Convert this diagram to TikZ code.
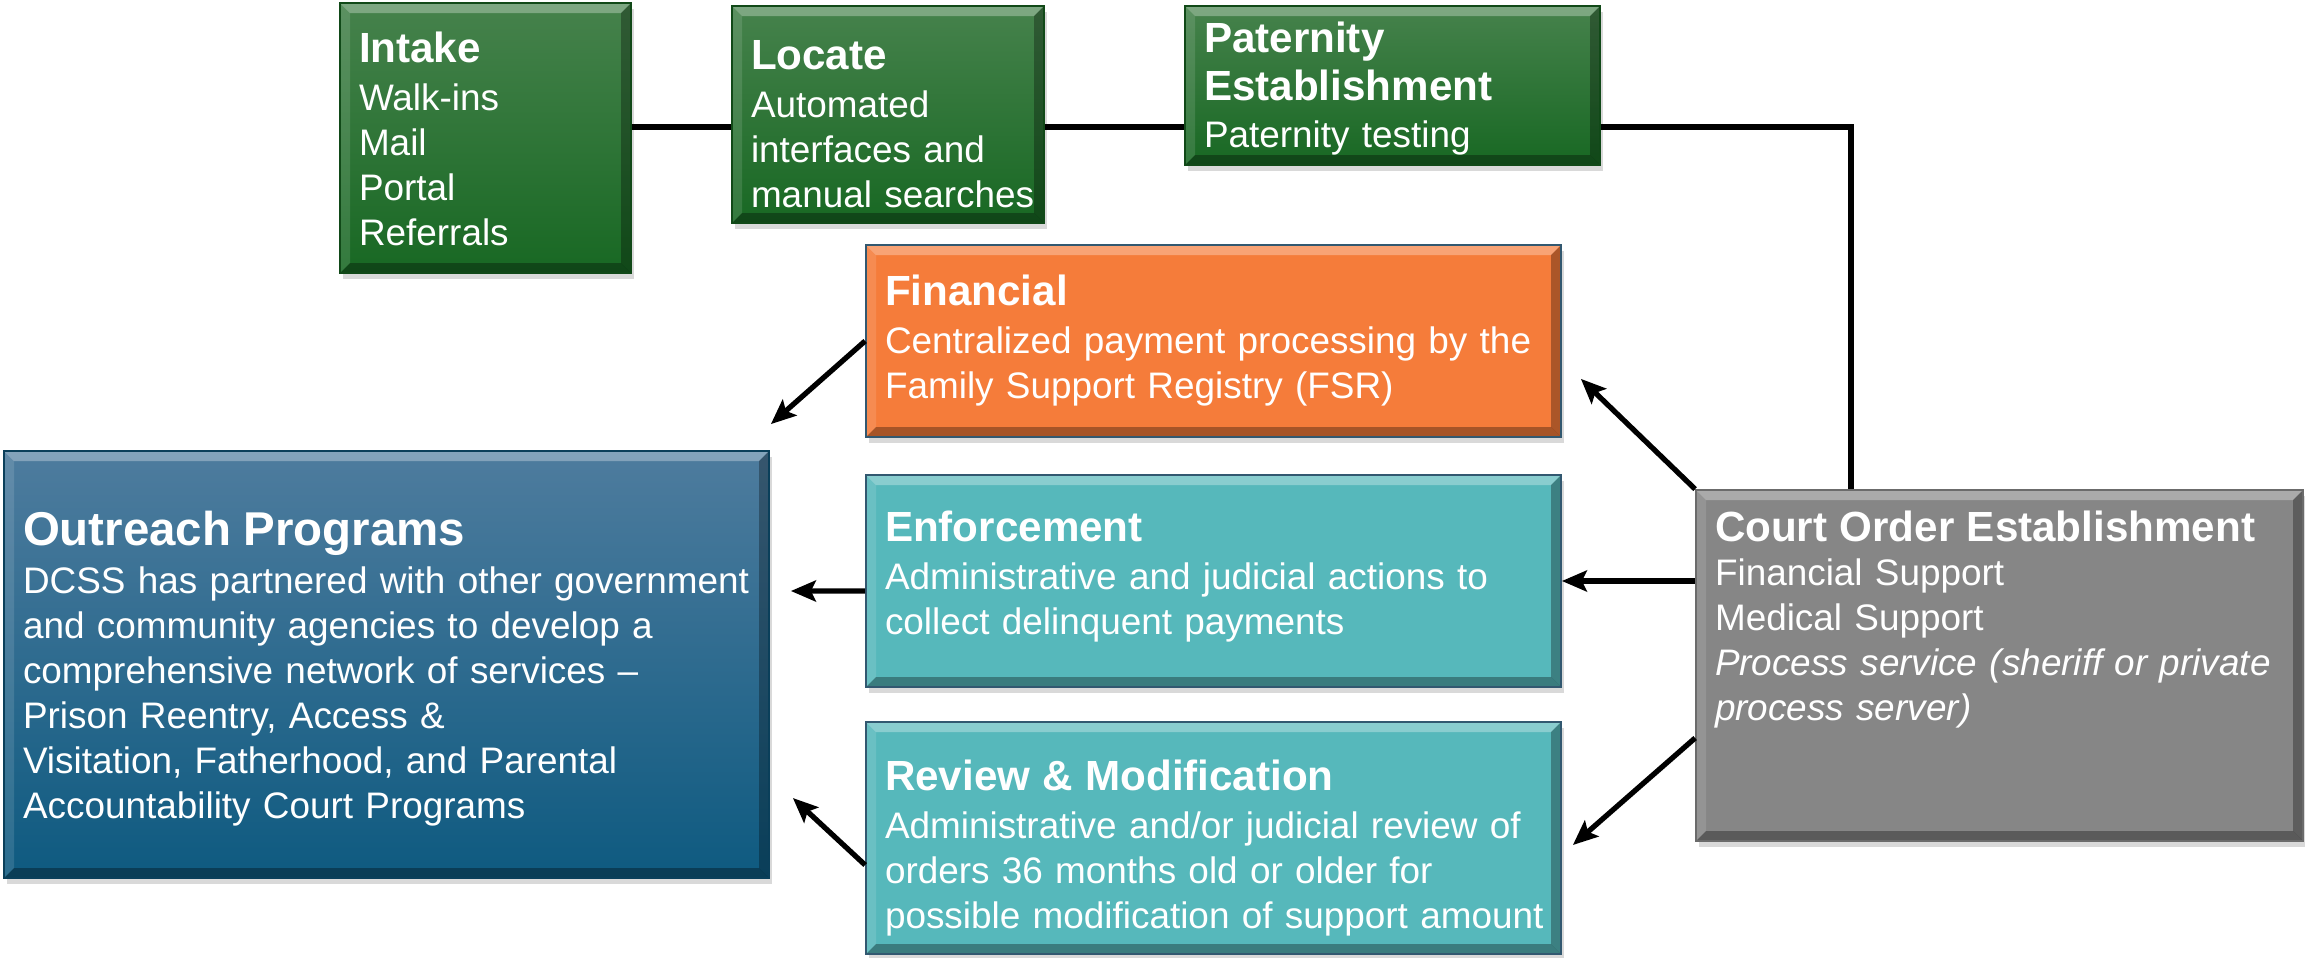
\documentclass[tikz,border=0pt]{standalone}
\usepackage{fontspec}
\setmainfont{Liberation Sans}
\usetikzlibrary{shadows,arrows.meta}

\definecolor{grntop}{RGB}{70,130,76}
\definecolor{grnmid}{RGB}{28,112,40}
\definecolor{grnbot}{RGB}{24,104,35}
\definecolor{blutop}{RGB}{78,124,158}
\definecolor{blumid}{RGB}{26,106,143}
\definecolor{blubot}{RGB}{14,90,128}
\definecolor{orng}{RGB}{245,124,58}
\definecolor{teal}{RGB}{86,184,187}
\definecolor{gry}{RGB}{134,134,134}
\definecolor{edge}{RGB}{50,88,112}

\newcommand{\bvw}{0.1cm}
\newcommand{\boxhead}[1]{{\fontsize{12}{14}\selectfont\bfseries #1}}

\tikzset{
  bevel/.style={path picture={
    \coordinate (pnw) at (path picture bounding box.north west);
    \coordinate (pse) at (path picture bounding box.south east);
    \coordinate (pne) at (pse |- pnw);
    \coordinate (psw) at (pnw |- pse);
    \fill[white,opacity=0.3] (pnw) -- (pne) -- ([shift={(-\bvw,-\bvw)}]pne) -- ([shift={(\bvw,-\bvw)}]pnw) -- cycle;
    \fill[white,opacity=0.12] (pnw) -- ([shift={(\bvw,-\bvw)}]pnw) -- ([shift={(\bvw,\bvw)}]psw) -- (psw) -- cycle;
    \fill[black,opacity=0.32] (psw) -- ([shift={(\bvw,\bvw)}]psw) -- ([shift={(-\bvw,\bvw)}]pse) -- (pse) -- cycle;
    \fill[black,opacity=0.3] (pse) -- ([shift={(-\bvw,\bvw)}]pse) -- ([shift={(-\bvw,-\bvw)}]pne) -- (pne) -- cycle;
  }},
  box/.style={rectangle, bevel, line width=0.5pt, text=white,
    inner xsep=0.19cm, inner ysep=0pt, font=\fontsize{10.5}{12.8}\selectfont,
    execute at begin node={\rightskip=-0.3cm plus 1fil\hyphenpenalty=10000\relax},
    drop shadow={shadow xshift=0.03cm, shadow yshift=-0.06cm, opacity=0.3}},
  greenbox/.style={box, draw=grnbot!70!black, top color=grntop, middle color=grnmid, bottom color=grnbot},
  bluebox/.style={box, draw=blubot!70!black, top color=blutop, middle color=blumid, bottom color=blubot},
  orangebox/.style={box, draw=edge, fill=orng},
  tealbox/.style={box, draw=edge, fill=teal},
  graybox/.style={box, draw=gry!80!black, fill=gry},
  link/.style={line width=1.5pt},
  arr/.style={-{Stealth[length=0.25cm,width=0.21cm,inset=0.05cm]}, line width=1.5pt}
}

\begin{document}
\begin{tikzpicture}
\useasboundingbox (0,0) rectangle (23.05,9.57);

% top row
\node[greenbox, minimum width=2.91cm, minimum height=2.70cm, text width=2.53cm,
  text height=0.59cm, text depth=2.11cm] (intake) at (4.855,8.19)
  {\boxhead{Intake}\\[1pt]Walk-ins\\Mail\\Portal\\Referrals};
\node[greenbox, minimum width=3.12cm, minimum height=2.17cm, text width=2.74cm,
  text height=0.63cm, text depth=1.54cm] (locate) at (8.88,8.425)
  {\boxhead{Locate}\\[1pt]Automated\\interfaces and\\manual searches};
\node[greenbox, minimum width=4.15cm, minimum height=1.59cm, text width=3.77cm,
  text height=0.46cm, text depth=1.13cm] (paternity) at (13.925,8.715)
  {\boxhead{Paternity\\[1pt]Establishment}\\[0.5pt]Paternity testing};

% middle column
\node[orangebox, minimum width=6.95cm, minimum height=1.92cm, text width=6.57cm,
  text height=0.60cm, text depth=1.32cm] (financial) at (12.135,6.16)
  {\boxhead{Financial}\\[1pt]Centralized payment processing by the\\Family Support Registry (FSR)};
\node[tealbox, minimum width=6.95cm, minimum height=2.12cm, text width=6.57cm,
  text height=0.66cm, text depth=1.46cm] (enforce) at (12.135,3.76)
  {\boxhead{Enforcement}\\[1pt]Administrative and judicial actions to\\collect delinquent payments};
\node[tealbox, minimum width=6.95cm, minimum height=2.32cm, text width=6.57cm,
  text height=0.68cm, text depth=1.64cm] (review) at (12.135,1.19)
  {\boxhead{Review \& Modification}\\[1pt]Administrative and/or judicial review of\\orders 36 months old or older for\\possible modification of support amount};

% left and right
\node[bluebox, minimum width=7.65cm, minimum height=4.27cm, text width=7.27cm,
  text height=0.94cm, text depth=3.33cm] (outreach) at (3.865,2.925)
  {{\fontsize{13.5}{15.5}\selectfont\bfseries Outreach Programs}\\[1pt]DCSS has partnered with other government\\and community agencies to develop a\\comprehensive network of services --\\Prison Reentry, Access \&\\Visitation, Fatherhood, and Parental\\Accountability Court Programs};
\node[graybox, minimum width=6.07cm, minimum height=3.51cm, text width=5.69cm,
  text height=0.51cm, text depth=3.00cm] (court) at (19.995,2.915)
  {\boxhead{Court Order Establishment}\\Financial Support\\Medical Support\\\textit{Process service (sheriff or private\\process server)}};

% connectors
\coordinate (row) at (0,8.30);
\draw[link] (intake.east |- row) -- (locate.west |- row);
\draw[link] (locate.east |- row) -- (paternity.west |- row);
\draw[link] (paternity.east |- row) -| ([xshift=1.56cm]court.north west);
\draw[arr] (court.north west) -- ([xshift=0.19cm,yshift=0.59cm]financial.south east);
\draw[arr] (court.west |- enforce.east) -- (enforce.east);
\draw[arr] ([yshift=-0.725cm]court.west) -- ([xshift=0.11cm,yshift=-0.07cm]review.east);
\draw[arr] (financial.west) -- ([xshift=0.01cm,yshift=0.26cm]outreach.north east);
\draw[arr] ([yshift=-0.1cm]enforce.west) -- ([xshift=0.21cm,yshift=0.735cm]outreach.east);
\draw[arr] ([yshift=-0.27cm]review.west) -- ([xshift=0.23cm,yshift=-1.335cm]outreach.east);
\end{tikzpicture}
\end{document}
